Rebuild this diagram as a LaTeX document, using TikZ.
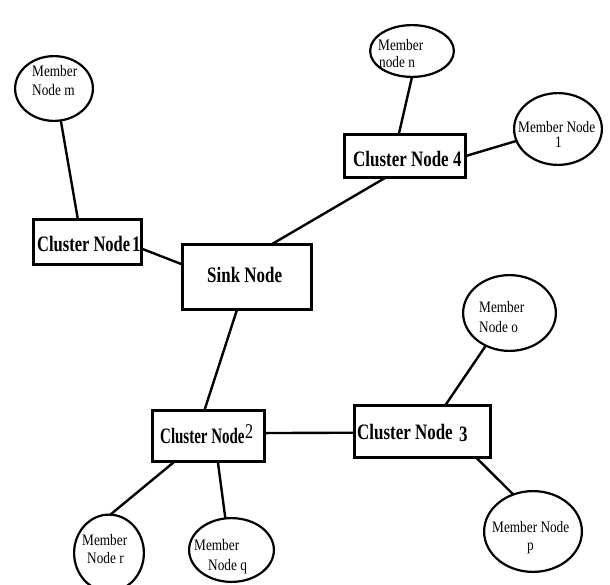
\documentclass[tikz,border=0pt]{standalone}
\usepackage{fontspec}
\setmainfont{Liberation Serif}
\usetikzlibrary{shapes.geometric}
\tikzset{
  box/.style={draw, line width=2.6pt, rectangle, inner sep=0pt, outer sep=0pt},
  oval/.style={draw, ellipse, line width=2.2pt, inner sep=0pt, outer sep=0pt},
  link/.style={line width=2.4pt},
  mtext/.style={anchor=base west, inner sep=0pt, font=\fontsize{16}{18}\selectfont},
  ctext/.style={anchor=base west, inner sep=0pt, font=\fontsize{22}{24}\selectfont\bfseries},
  dtext/.style={anchor=base west, inner sep=0pt, font=\fontsize{21}{23}\selectfont},
}
\newcommand\mxs[1]{\scalebox{0.83}[1]{#1}}
\newcommand\cxs[2][0.77]{\scalebox{#1}[1]{#2}}
\begin{document}
\begin{tikzpicture}[x=1pt,y=-1pt]
\fill[white] (0,0) rectangle (610,584);
\useasboundingbox (0,0) rectangle (610,584);

% boxes
\node[box, minimum width=108.4pt, minimum height=45.4pt] (cn1) at (87.5,242) {};
\node[box, minimum width=129.4pt, minimum height=65.4pt] (sink) at (247,277) {};
\node[box, minimum width=121.4pt, minimum height=43.4pt] (cn4) at (405,156) {};
\node[box, minimum width=112.4pt, minimum height=51.4pt] (cn2) at (208.5,436) {};
\node[box, minimum width=136.4pt, minimum height=52.4pt] (cn3) at (422.5,431.5) {};

% ellipses
\node[oval, minimum width=77.8pt, minimum height=64.8pt] (mm) at (54,88.5) {};
\node[oval, minimum width=83.8pt, minimum height=51.8pt] (mn) at (412,51) {};
\node[oval, minimum width=87.8pt, minimum height=71.8pt] (m1) at (558,129) {};
\node[oval, minimum width=92.8pt, minimum height=75.8pt] (mo) at (509.5,313) {};
\node[oval, minimum width=97.8pt, minimum height=80.8pt] (mp) at (533,531.5) {};
\node[oval, minimum width=69.8pt, minimum height=76.8pt] (mr) at (109,553) {};
\node[oval, minimum width=84.8pt, minimum height=63.8pt] (mq) at (231.5,550) {};

% connectors
\draw[link] (mm.-78) -- (cn1.113.6);
\draw[link] (cn1.-7.2) -- (sink.169.7);
\draw[link] (sink.53.7) -- (cn4.-132.4);
\draw[link] (mn.-90) -- (cn4.106.9);
\draw[link] (cn4.-0.9) -- (m1.196.5);
\draw[link] (sink.-107.9) -- (cn2.99.5);
\draw[link] (cn2.3) -- (cn3.181.2);
\draw[link] (cn2.-143.5) -- (mr.88);
\draw[link] (cn2.-70.6) -- (mq.101);
\draw[link] (cn3.49.5) -- (mo.-126.9);
\draw[link] (cn3.-26.8) -- (mp.118.2);

% cluster labels
\node[ctext] (cn1t) at (37,251) {\cxs[0.75]{Cluster Node}};
\node[ctext] (cn1d) at (132,251) {\cxs{1}};
\node[ctext] (sinkt) at (207,282) {\cxs{Sink Node}};
\node[ctext] (cn4t) at (353,166) {\cxs{Cluster Node}};
\node[ctext] (cn4d) at (453,166) {\cxs{4}};
\node[ctext] (cn2t) at (160,443) {\cxs[0.68]{Cluster Node}};
\node[dtext] (cn2d) at (245,438) {\cxs{2}};
\node[ctext] (cn3t) at (357,439) {\cxs{Cluster Node}};
\node[ctext] (cn3d) at (459,441) {\cxs{3}};

% member labels
\node[mtext] (mmt1) at (32,76) {\mxs{Member}};
\node[mtext] (mmt2) at (32,95) {\mxs{Node m}};
\node[mtext] (mnt1) at (378,50) {\mxs{Member}};
\node[mtext] (mnt2) at (379,67) {\mxs{node n}};
\node[mtext] (m1t1) at (518,132) {\mxs{Member Node}};
\node[mtext] (m1t2) at (555,147) {\mxs{1}};
\node[mtext] (mot1) at (479,312) {\mxs{Member}};
\node[mtext] (mot2) at (479,332) {\mxs{Node o}};
\node[mtext] (mpt1) at (492,532) {\mxs{Member Node}};
\node[mtext] (mpt2) at (527,550) {\mxs{p}};
\node[mtext] (mrt1) at (82,545) {\mxs{Member}};
\node[mtext] (mrt2) at (87,563) {\mxs{Node r}};
\node[mtext] (mqt1) at (194,550) {\mxs{Member}};
\node[mtext] (mqt2) at (208,570) {\mxs{Node q}};
\end{tikzpicture}
\end{document}
